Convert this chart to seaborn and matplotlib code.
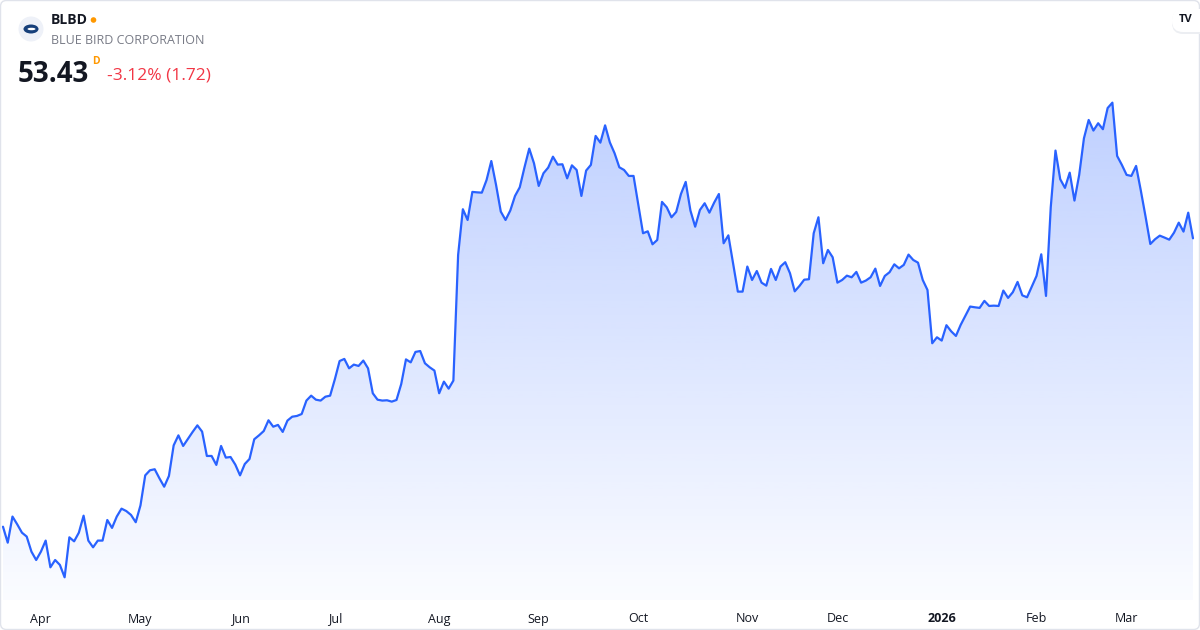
import numpy as np
import pandas as pd
import matplotlib
matplotlib.use('Agg')
import matplotlib.pyplot as plt
import seaborn as sns
from matplotlib.patches import Polygon, FancyBboxPatch, Circle, Ellipse
from matplotlib.colors import to_rgb

# Header text
ticker = 'BLBD'
company = 'BLUE BIRD CORPORATION'
last_price = '53.43'
change_text = '-3.12% (1.72)'

# NYSE trading days, one year of daily closes
holidays = ['2025-04-18', '2025-05-26', '2025-06-19', '2025-07-04', '2025-09-01',
            '2025-11-27', '2025-12-25', '2026-01-01', '2026-01-19', '2026-02-16']
dates = pd.bdate_range('2025-03-20', '2026-03-20', freq='C', holidays=holidays)

# daily close
close = [
    34.11, 33.04, 34.79, 34.27, 33.71, 33.45, 32.44, 31.88, 32.44, 33.18,
    31.39, 31.88, 31.55, 30.72, 33.40, 33.13, 33.71, 34.85, 33.18, 32.73,
    33.18, 33.18, 34.56, 34.03, 34.79, 35.32, 35.16, 34.90, 34.41, 35.54,
    37.55, 37.89, 37.96, 37.35, 36.79, 37.51, 39.56, 40.23, 39.52, 39.99,
    40.46, 40.90, 40.48, 38.85, 38.85, 38.25, 39.52, 38.74, 38.78, 38.27,
    37.55, 38.31, 38.65, 39.97, 40.23, 40.52, 41.24, 40.81, 40.93, 40.46,
    41.22, 41.48, 41.53, 41.66, 42.56, 42.89, 42.62, 42.56, 42.82, 42.89,
    43.99, 45.21, 45.35, 44.72, 44.97, 44.88, 45.24, 44.72, 43.05, 42.62,
    42.56, 42.58, 42.49, 42.60, 43.67, 45.32, 45.12, 45.82, 45.88, 45.06,
    44.79, 44.57, 43.05, 43.83, 43.36, 43.90, 52.32, 55.38, 54.66, 56.54,
    56.51, 56.49, 57.34, 58.61, 57.01, 55.22, 54.66, 55.29, 56.27, 56.85,
    58.19, 59.44, 58.46, 56.94, 57.79, 58.17, 58.90, 58.37, 58.39, 57.45,
    58.32, 58.01, 56.27, 57.97, 58.35, 60.29, 59.84, 61.00, 59.86, 59.13,
    58.19, 58.01, 57.61, 57.61, 55.67, 53.77, 53.90, 53.03, 53.32, 55.87,
    55.51, 54.84, 55.20, 56.40, 57.21, 55.29, 54.21, 55.33, 55.78, 55.15,
    55.82, 56.40, 53.10, 53.63, 51.76, 49.86, 49.86, 51.54, 50.64, 51.24,
    50.46, 50.26, 51.38, 50.64, 51.54, 51.83, 51.09, 49.88, 50.24, 50.66,
    50.69, 53.77, 54.84, 51.76, 52.65, 52.16, 50.46, 50.64, 50.93, 50.82,
    51.18, 50.46, 50.60, 50.82, 51.40, 50.24, 50.91, 51.16, 51.69, 51.42,
    51.65, 52.34, 51.98, 51.80, 50.64, 49.97, 46.40, 46.80, 46.58, 47.61,
    47.20, 46.89, 47.63, 48.25, 48.86, 48.81, 48.77, 49.24, 48.90, 48.92,
    48.90, 49.93, 49.44, 49.82, 50.51, 49.61, 49.48, 50.20, 50.91, 52.36,
    49.57, 55.51, 59.31, 57.39, 56.81, 57.83, 55.96, 57.68, 60.13, 61.36,
    60.65, 61.14, 60.74, 62.16, 62.52, 58.95, 58.35, 57.68, 57.61, 58.28,
    56.63, 54.88, 53.05, 53.37, 53.61, 53.48, 53.34, 53.81, 54.48, 53.88,
    55.15, 53.43,
]

month_labels = ['Apr', 'May', 'Jun', 'Jul', 'Aug', 'Sep', 'Oct', 'Nov', 'Dec',
                '2026', 'Feb', 'Mar']

df = pd.DataFrame({'date': dates, 'close': close})
df['idx'] = np.arange(len(df))
month_starts = df.groupby(df['date'].dt.to_period('M'))['idx'].min().iloc[1:]

line_color = '#2962ff'
W, H = 1200, 630

sns.set_style('white')
plt.rcParams['font.family'] = ['Open Sans', 'DejaVu Sans']

fig = plt.figure(figsize=(W / 100, H / 100), dpi=100)
fig.patch.set_facecolor('white')


def fx(x):
    return x / W


def fy(y):
    return 1 - y / H


ax = fig.add_axes([fx(1), 30 / H, 1198 / W, 599 / H])
ymin, ymax = 29.2, 69.33

# gradient area under the line
grad = np.zeros((256, 1, 4))
grad[..., :3] = to_rgb(line_color)
grad[..., 3] = np.linspace(0.02, 0.30, 256)[:, None]
im = ax.imshow(grad, extent=(0, len(df) - 1, ymin, df['close'].max()),
               origin='lower', aspect='auto', zorder=1, interpolation='bilinear')
verts = np.column_stack([np.r_[0, df['idx'], len(df) - 1],
                         np.r_[ymin, df['close'], ymin]])
clip = Polygon(verts, closed=True, facecolor='none', edgecolor='none',
               transform=ax.transData)
ax.add_patch(clip)
im.set_clip_path(clip)

sns.lineplot(data=df, x='idx', y='close', color=line_color, linewidth=1.6,
             ax=ax, zorder=3)

ax.set_xlim(-0.42, 252.27)
ax.set_ylim(ymin, ymax)
ax.set_xticks(month_starts.values)
ax.set_xticklabels(month_labels)
for lab in ax.get_xticklabels():
    lab.set_color('#131722')
    lab.set_fontsize(9)
    if lab.get_text() == '2026':
        lab.set_fontweight('bold')
ax.tick_params(axis='x', length=0, pad=9)
ax.set_yticks([])
ax.set_xlabel('')
ax.set_ylabel('')
for s in ax.spines.values():
    s.set_visible(False)
ax.patch.set_alpha(0)

# outer rounded border
fig.patches.append(FancyBboxPatch((0.005, 0.005), W / 100 - 0.01, H / 100 - 0.01,
                                  boxstyle='round,pad=0,rounding_size=0.06',
                                  transform=fig.dpi_scale_trans,
                                  facecolor='none', edgecolor='#e0e3eb', lw=1))

# logo
fig.patches.append(Circle((0.31, (H - 29) / 100), 0.125, transform=fig.dpi_scale_trans,
                          facecolor='#eef1f8', edgecolor='none'))
fig.patches.append(Ellipse((0.31, (H - 29) / 100), 0.15, 0.09, transform=fig.dpi_scale_trans,
                           facecolor='#163f7a', edgecolor='none'))
fig.patches.append(Ellipse((0.315, (H - 29) / 100), 0.08, 0.025, transform=fig.dpi_scale_trans,
                           facecolor='white', edgecolor='none'))

fig.text(fx(51), fy(20), ticker, fontsize=10, fontweight='bold', color='#131722',
         va='center', ha='left')
fig.patches.append(Circle((0.935, (H - 20) / 100), 0.028, transform=fig.dpi_scale_trans,
                          facecolor='#ff9800', edgecolor='none'))
fig.text(fx(51), fy(41), company, fontsize=9, color='#787b86', va='center', ha='left')
fig.text(fx(18), fy(74), last_price, fontsize=20, fontweight='bold', color='#131722',
         va='center', ha='left')
fig.text(fx(92), fy(62), 'D', fontsize=7.5, fontweight='bold', color='#ff9800',
         va='center', ha='left')
fig.text(fx(107), fy(76), change_text, fontsize=12.5, color='#f23645',
         va='center', ha='left')

# TradingView badge, with a soft shadow
fig.patches.append(FancyBboxPatch((11.72, (H - 34) / 100), 0.40, 0.24,
                                  boxstyle='round,pad=0,rounding_size=0.11',
                                  transform=fig.dpi_scale_trans,
                                  facecolor='#eceef2', edgecolor='none'))
fig.patches.append(FancyBboxPatch((11.72, (H - 32) / 100), 0.40, 0.23,
                                  boxstyle='round,pad=0,rounding_size=0.11',
                                  transform=fig.dpi_scale_trans,
                                  facecolor='white', edgecolor='none'))
fig.text(fx(1186), fy(20), 'TV', fontsize=8, fontweight='bold', color='#131722',
         va='center', ha='center')

fig.savefig('out.png', dpi=100)
